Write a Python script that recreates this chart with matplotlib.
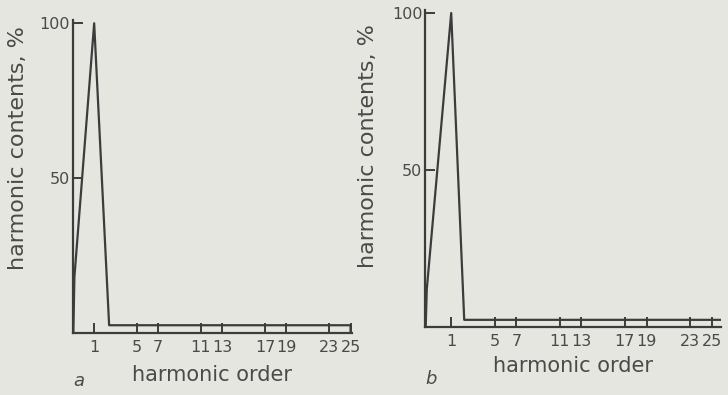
import matplotlib
matplotlib.use("Agg")
import matplotlib.pyplot as plt

# harmonic spectrum outlines
harmonics = [1, 5, 7, 11, 13, 17, 19, 23, 25]
tick_labels = ["1", "5", "7", "11", "13", "17", "19", "23", "25"]

a_x = [-0.95, -0.85, 1, 2.4, 25, 25]
a_y = [0, 18, 100, 2.5, 2.5, 0]

b_x = [-1.35, -1.25, 1, 2.2, 25.8]
b_y = [0, 12, 100, 2.3, 2.3]

paper = "#e6e6e0"
ink = "#3c3c3c"
text_ink = "#4a4a4a"

plt.rcParams["font.family"] = ["DejaVu Sans"]

fig = plt.figure(figsize=(7.28, 3.95), dpi=100, facecolor=paper)

panels = [
    dict(rect=[0.100, 0.157, 0.383, 0.792], x=a_x, y=a_y, xlim=(-1.0, 25.1), tag="a",
         ylab_x=-0.16, ylab_y=0.59, xpad=7, tag_xy=(0.0, -0.155)),
    dict(rect=[0.584, 0.172, 0.407, 0.803], x=b_x, y=b_y, xlim=(-1.4, 25.9), tag="b",
         ylab_x=-0.158, ylab_y=0.57, xpad=5, tag_xy=(0.0, -0.165)),
]

for p in panels:
    ax = fig.add_axes(p["rect"])
    ax.set_facecolor(paper)
    ax.plot(p["x"], p["y"], color=ink, lw=1.6)
    ax.set_xlim(*p["xlim"])
    ax.set_ylim(0, 101)
    for s in ["top", "right"]:
        ax.spines[s].set_visible(False)
    for s in ["left", "bottom"]:
        ax.spines[s].set_color(ink)
        ax.spines[s].set_linewidth(1.6)
    ax.set_xticks(harmonics)
    ax.set_xticklabels(tick_labels)
    ax.set_yticks([50, 100])
    ax.tick_params(direction="in", length=7, width=1.4, color=ink, labelcolor=text_ink,
                   labelsize=11.5, pad=5)
    ax.tick_params(axis="y", pad=2)
    ax.set_xlabel("harmonic order", fontsize=15, color=text_ink, labelpad=p["xpad"])
    ax.set_ylabel("harmonic contents, %", fontsize=16, color=text_ink)
    ax.yaxis.set_label_coords(p["ylab_x"], p["ylab_y"])
    ax.text(p["tag_xy"][0], p["tag_xy"][1], p["tag"], transform=ax.transAxes,
            fontsize=13, style="italic", color=text_ink, va="center")

fig.savefig("out.png", dpi=100, facecolor=paper)
